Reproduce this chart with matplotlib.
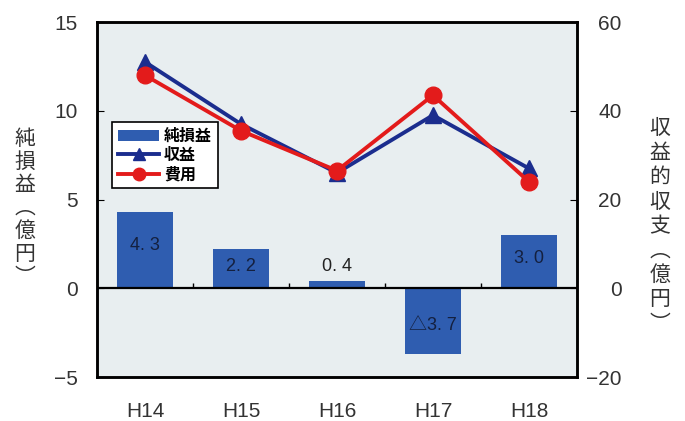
import numpy as np
import matplotlib
matplotlib.use("Agg")
import matplotlib.pyplot as plt
from matplotlib.patches import Patch
from matplotlib.lines import Line2D

plt.rcParams['font.family'] = ['Liberation Sans', 'Noto Sans CJK JP', 'DejaVu Sans']

# Fiscal years
categories = ["H14", "H15", "H16", "H17", "H18"]
# Net profit/loss (100 million yen), left axis
net_profit = [4.3, 2.2, 0.4, -3.7, 3.0]
# Revenue and expenses (100 million yen), right axis
revenue = [51, 37, 26, 39, 27]
expenses = [48, 35.5, 26.5, 43.5, 24]

left_ticks = [-5, 0, 5, 10, 15]
right_ticks = [-20, 0, 20, 40, 60]

bar_color = "#2f5db0"
rev_color = "#1b2d8e"
exp_color = "#e31b1b"
text_color = "#333333"

fig = plt.figure(figsize=(6.85, 4.21), dpi=100)
ax1 = fig.add_axes([0.1416, 0.1045, 0.7007, 0.8432])
ax1.set_facecolor("#e8eef0")
ax2 = ax1.twinx()
ax1.set_zorder(1)
ax2.set_zorder(2)
ax2.patch.set_visible(False)

x = np.arange(len(categories))
bars = ax1.bar(x, net_profit, width=0.58, color=bar_color, zorder=2)
ax1.axhline(0, color="black", lw=1.6, zorder=3)
ax1.vlines(x[:-1] + 0.5, 0, 0.3, color="black", lw=1.0, zorder=3)

for xi, v in zip(x, net_profit):
    txt = f"{abs(v):.1f}".replace(".", ". ")
    if v < 0:
        txt = "△" + txt
    if abs(v) < 1:
        ax1.text(xi, v + 0.35, txt, ha="center", va="bottom", fontsize=13,
                 color="#222222", zorder=4)
    else:
        ax1.text(xi, v * 0.56, txt, ha="center", va="center", fontsize=13,
                 color="#14203f", zorder=4)

ax1.set_xlim(-0.5, len(categories) - 0.5)
ax1.set_ylim(left_ticks[0], left_ticks[-1])
ax1.set_yticks(left_ticks)
ax1.set_xticks(x)
ax1.set_xticklabels(categories, fontsize=15, color=text_color)
ax1.tick_params(axis="x", length=0, pad=18)
ax1.tick_params(axis="y", direction="in", length=5, pad=14, labelsize=15,
                labelcolor=text_color)

ax2.plot(x, revenue, color=rev_color, lw=2.8, marker="^", markersize=12,
         label="収益", zorder=5)
ax2.plot(x, expenses, color=exp_color, lw=2.8, marker="o", markersize=12,
         label="費用", zorder=6)
ax2.set_ylim(right_ticks[0], right_ticks[-1])
ax2.set_yticks(right_ticks)
ax2.tick_params(axis="y", direction="in", length=5, pad=32, labelsize=15,
                labelcolor=text_color)
for lbl in ax2.get_yticklabels():
    lbl.set_ha("right")

for ax in (ax1, ax2):
    for s in ax.spines.values():
        s.set_linewidth(1.8)
        s.set_color("black")

handles = [Patch(facecolor=bar_color, edgecolor="none", label="純損益"),
           Line2D([], [], color=rev_color, lw=2.8, marker="^", markersize=9, label="収益"),
           Line2D([], [], color=exp_color, lw=2.8, marker="o", markersize=9, label="費用")]
leg = ax2.legend(handles=handles, loc="upper left", bbox_to_anchor=(0.015, 0.74),
                 frameon=True, fancybox=False, handlelength=2.6,
                 borderpad=0.35, labelspacing=0.2, handletextpad=0.3,
                 prop={"family": ["Noto Sans CJK JP"], "weight": "bold", "size": 11.5})
leg.get_frame().set_edgecolor("black")
leg.get_frame().set_linewidth(1.2)
leg.get_frame().set_facecolor("white")
leg.get_frame().set_alpha(1)

left_label = "純損益︵億円︶"
right_label = "収益的収支︵億円︶"
fig.text(25 / 685, 1 - 208 / 421, "\n".join(left_label), ha="center", va="center",
         fontsize=15, linespacing=1.05, color=text_color,
         family=["Noto Sans CJK JP"])
fig.text(660 / 685, 1 - 226 / 421, "\n".join(right_label), ha="center", va="center",
         fontsize=15, linespacing=1.14, color=text_color,
         family=["Noto Sans CJK JP"])

fig.savefig("out.png", dpi=100, facecolor="white")
